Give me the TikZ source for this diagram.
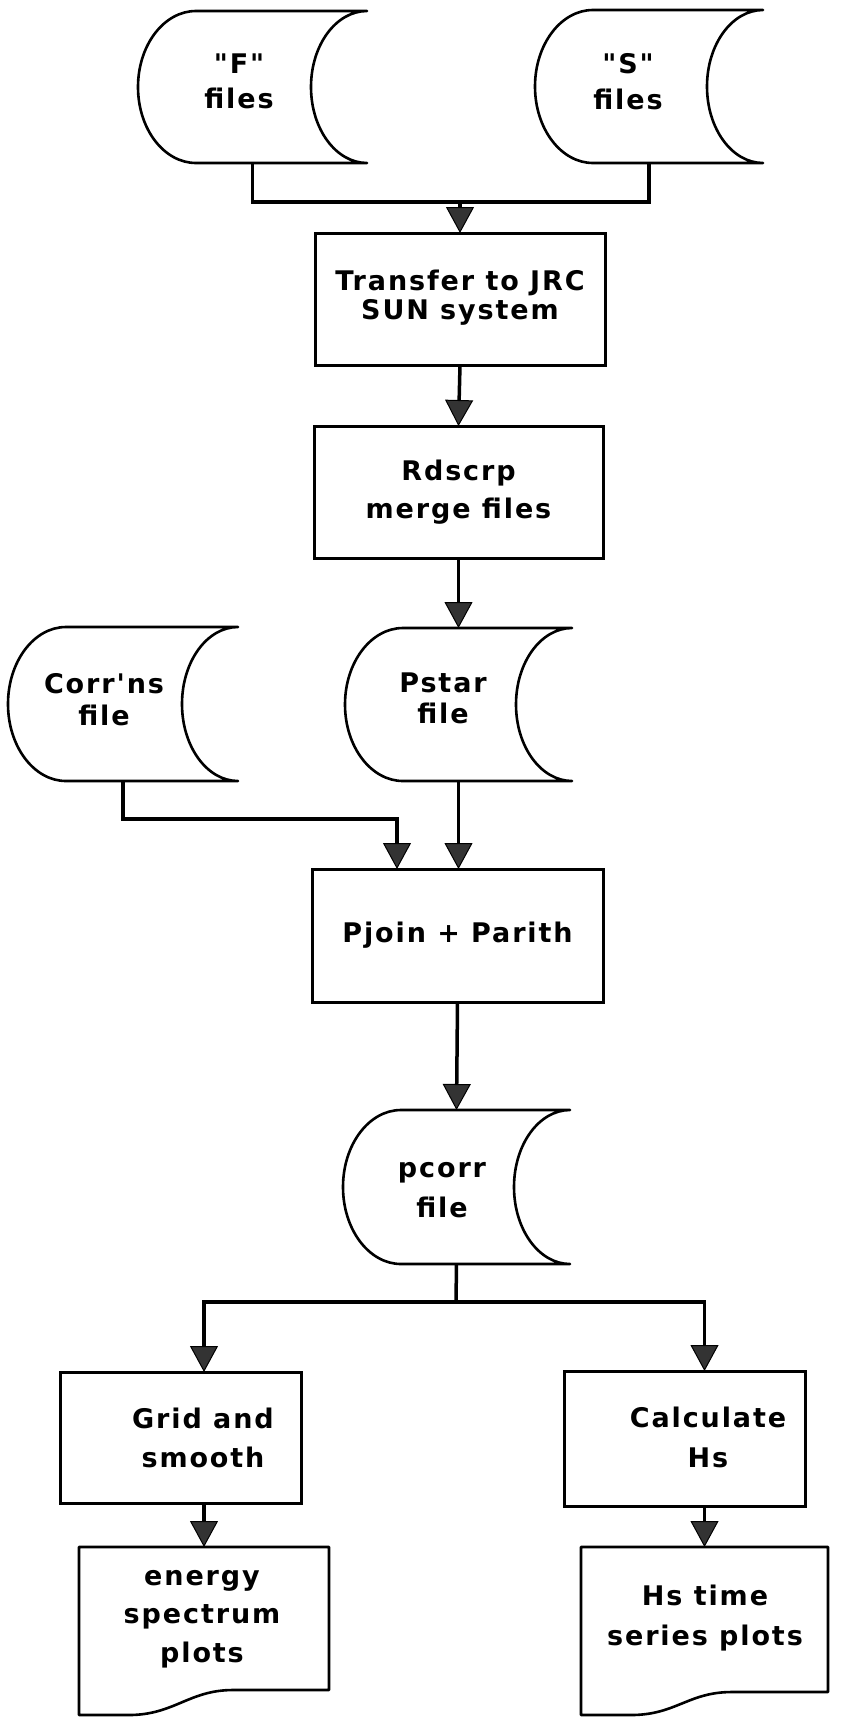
\documentclass[tikz,border=0pt]{standalone}
\usepackage{fontspec}
\newfontfamily\lbl{DejaVu Sans Bold}[LetterSpace=7,Ligatures=TeXOff]
\usetikzlibrary{arrows.meta}
\newcommand\fs[1]{\lbl\fontsize{27}{#1}\selectfont}
\newcommand\storage[5]{%
 \pgfmathsetmacro\sL{#2}\pgfmathsetmacro\sT{#3}\pgfmathsetmacro\sR{#4}\pgfmathsetmacro\sB{#5}%
 \pgfmathsetmacro\sM{(\sT+\sB)/2}\pgfmathsetmacro\sH{(\sB-\sT)/2*0.5523}%
 \node[frame,minimum width=\sR-\sL,minimum height=\sB-\sT] (#1) at ({(\sL+\sR)/2},\sM) {};
 \draw[outl] (\sL+58,\sT) -- (\sR,\sT)
   .. controls (\sR-31,\sT) and (\sR-56,\sM-\sH) .. (\sR-56,\sM)
   .. controls (\sR-56,\sM+\sH) and (\sR-31,\sB) .. (\sR,\sB)
   -- (\sL+58,\sB)
   .. controls (\sL+26,\sB) and (\sL,\sM+\sH) .. (\sL,\sM)
   .. controls (\sL,\sM-\sH) and (\sL+26,\sT) .. cycle;
}
\newcommand\docshape[6]{%
 \pgfmathsetmacro\dL{#2}\pgfmathsetmacro\dT{#3}\pgfmathsetmacro\dR{#4}\pgfmathsetmacro\dBl{#5}\pgfmathsetmacro\dBr{#6}%
 \node[frame,minimum width=\dR-\dL,minimum height=\dBl-\dT] (#1) at ({(\dL+\dR)/2},{(\dT+\dBl)/2}) {};
 \draw[outl] (\dL,\dT) -- (\dR,\dT) -- (\dR,\dBr) -- (\dR-96,\dBr)
   .. controls (\dR-140,\dBr) and (\dL+95,\dBl) .. (\dL+50,\dBl) -- (\dL,\dBl) -- cycle;
}
\begin{document}
\begin{tikzpicture}[x=1pt,y=-1pt,
  frame/.style={inner sep=0pt,outer sep=0pt},
  box/.style={draw,line width=3pt,inner sep=0pt,outer sep=0pt,align=center},
  lab/.style={inner sep=0pt,outer sep=0pt,align=center},
  outl/.style={line width=2.6pt,line join=round},
  conn/.style={line width=3.5pt},
  arr/.style={conn,-{Triangle[width=28pt,length=26pt,line width=1pt,fill=black!80]}}
]
\useasboundingbox[fill=white] (0,0) rectangle (843,1717);

% storages
\storage{F}{138}{11}{367}{163}
\node[lab,font=\fs{35}] (Ft) at (239,83.5) {\strut "F"\\\strut files};
\storage{S}{535}{10}{763}{163}
\node[lab,font=\fs{36}] (St) at (628,84.5) {\strut "S"\\\strut files};

% process boxes
\node[box,font=\fs{29},minimum width=290,minimum height=132] (T) at (460,299) {\strut Transfer to JRC\\\strut SUN system};
\node[box,font=\fs{38},minimum width=289,minimum height=132] (R) at (458.5,492) {\strut Rdscrp\\\strut merge files};

\storage{C}{8}{627}{238}{781}
\node[lab,font=\fs{32}] (Ct) at (104,702.6) {\strut Corr'ns\\\strut file};
\storage{P}{345}{628}{572}{781}
\node[lab,font=\fs{31}] (Pt) at (443,702) {\strut Pstar\\\strut file};

\node[box,font=\fs{36},minimum width=291,minimum height=133] (J) at (457.5,935.5) {\strut Pjoin + Parith};

\storage{PC}{343}{1110}{570}{1264}
\node[lab,font=\fs{40}] (PCt) at (442,1189) {\strut pcorr\\\strut file};

\node[box,minimum width=241,minimum height=131] (G) at (180.5,1437.5) {};
\node[lab,font=\fs{39}] (Gt) at (203,1439.7) {\strut Grid and\\\strut smooth};
\node[box,minimum width=241,minimum height=135] (K) at (684.5,1438.5) {};
\node[lab,font=\fs{40}] (Kt) at (708,1439) {\strut Calculate\\\strut Hs};

\docshape{E}{79}{1547}{329}{1715}{1690}
\node[lab,font=\fs{38.5}] (Et) at (202,1616) {\strut energy\\\strut spectrum\\\strut plots};
\docshape{H}{581}{1547}{828}{1715}{1692}
\node[lab,font=\fs{40}] (Ht) at (705,1617) {\strut Hs time\\\strut series plots};

% connectors
\coordinate (fsj) at (460,202);
\draw[conn] (F.south) -- (F.south |- fsj) -- (S.south |- fsj) -- (S.south);
\draw[arr] (fsj) -- (T.north);
\draw[arr] (T.south) -- (R.north);
\draw[arr] (R.south) -- (P.north);
\coordinate (cj) at (397,819);
\draw[arr] (C.south) -- (C.south |- cj) -- (cj) -- (cj |- J.north);
\draw[arr] (P.south) -- (P.south |- J.north);
\draw[arr] (J.south) -- (PC.north);
\coordinate (spl) at (456,1302);
\draw[conn] (PC.south) -- (spl);
\draw[arr] (spl) -| (E.north |- G.north);
\draw[arr] (spl) -| (H.north |- K.north);
\draw[arr] (E.north |- G.south) -- (E.north);
\draw[arr] (H.north |- K.south) -- (H.north);
\end{tikzpicture}
\end{document}
